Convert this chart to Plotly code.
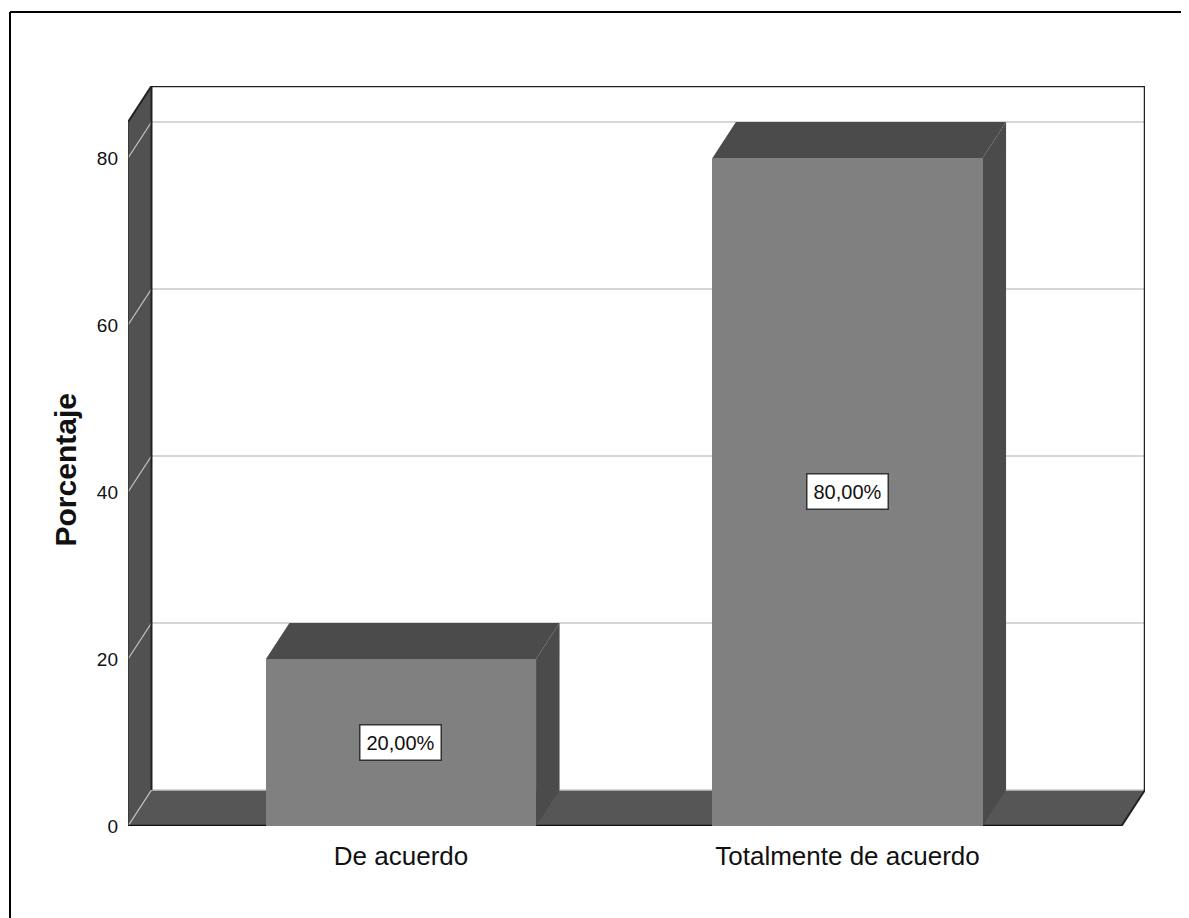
import plotly.graph_objects as go

# ---- data ----
categories = ["De acuerdo", "Totalmente de acuerdo"]
percentages = [20.0, 80.0]
bar_labels = ["20,00%", "80,00%"]
y_tick_values = [0, 20, 40, 60, 80]
y_tick_labels = ["0", "20", "40", "60", "80"]
y_title = "Porcentaje"

# ---- style / layout constants ----
W, H = 1189, 918
OFF = 8  # page body margin in the browser
X_RANGE = [-0.6114, 1.6663]
Y_RANGE = [0, 88.62]
DEPTH_X = 0.0526      # 3D depth offset (x units)
DEPTH_Y = 4.31        # 3D depth offset (y units)
BAR_WIDTH = 0.605
FRONT = "#808080"
DARK = "#4b4b4b"
FLOOR = "#565656"
WALL = "#515151"
GRID = "#c8c8c8"

# screen-space plot box: left 128, right 1145, top 86, bottom 826
ML = 128 - OFF
MT = 86 - OFF
MR = W - (1145 - OFF)
MB = H - (826 - OFF)
PW, PH = W - ML - MR, H - MT - MB

x0, x1 = X_RANGE[0], X_RANGE[1] - DEPTH_X
ytop = Y_RANGE[1]


def poly(pts, fill, line_color=None, line_width=0):
    p = "M " + " L ".join(f"{a},{b}" for a, b in pts) + " Z"
    return dict(type="path", path=p, xref="x", yref="y", fillcolor=fill,
                line=dict(color=line_color or fill, width=line_width), layer="below")


def seg(xa, ya, xb, yb, color, width):
    return dict(type="line", x0=xa, y0=ya, x1=xb, y1=yb, xref="x", yref="y",
                line=dict(color=color, width=width), layer="below")


def px_to_paper_x(sx):
    return (sx - OFF - ML) / PW


def px_to_paper_y(sy):
    return ((H - MB) - (sy - OFF)) / PH


shapes = []
# left wall
shapes.append(poly([(x0, 0), (x0 + DEPTH_X, DEPTH_Y), (x0 + DEPTH_X, ytop),
                    (x0, ytop - DEPTH_Y)], WALL))
# floor
shapes.append(poly([(x0, 0), (x1, 0), (x1 + DEPTH_X, DEPTH_Y), (x0 + DEPTH_X, DEPTH_Y)], FLOOR))
# gridlines on back wall and left wall
for v in y_tick_values:
    shapes.append(seg(x0 + DEPTH_X, v + DEPTH_Y, x1 + DEPTH_X, v + DEPTH_Y, GRID, 1.5))
    shapes.append(seg(x0, v, x0 + DEPTH_X, v + DEPTH_Y, GRID, 1.2))
# outlines
shapes.append(seg(x0 + DEPTH_X, ytop, x1 + DEPTH_X, ytop, "#222222", 2.5))
shapes.append(seg(x1 + DEPTH_X, ytop, x1 + DEPTH_X, DEPTH_Y, "#222222", 2.5))
shapes.append(seg(x0 + DEPTH_X, ytop, x0 + DEPTH_X, DEPTH_Y, "#222222", 2))
shapes.append(seg(x0, ytop - DEPTH_Y, x0 + DEPTH_X, ytop, "#222222", 2))
shapes.append(seg(x0, ytop - DEPTH_Y, x0, 0, "#333333", 1.5))
shapes.append(seg(x0, 0, x1, 0, "#111111", 2.5))
shapes.append(seg(x1, 0, x1 + DEPTH_X, DEPTH_Y, "#222222", 2))

# 3D bar top and side faces
for i, v in enumerate(percentages):
    l, r = i - BAR_WIDTH / 2, i + BAR_WIDTH / 2
    shapes.append(poly([(l, v), (l + DEPTH_X, v + DEPTH_Y), (r + DEPTH_X, v + DEPTH_Y), (r, v)], DARK))
    shapes.append(poly([(r, 0), (r + DEPTH_X, DEPTH_Y), (r + DEPTH_X, v + DEPTH_Y), (r, v)], DARK))

fig = go.Figure()
fig.add_trace(go.Bar(x=list(range(len(categories))), y=percentages, width=BAR_WIDTH,
                     marker=dict(color=FRONT, line=dict(width=0)), hoverinfo="skip",
                     showlegend=False))

annotations = []
for i, (v, lab) in enumerate(zip(percentages, bar_labels)):
    annotations.append(dict(x=i, y=v / 2, xref="x", yref="y", text=lab, showarrow=False,
                            font=dict(family="Liberation Sans, Arial", size=20, color="#111111"),
                            bgcolor="white", bordercolor="#333333", borderwidth=1.5, borderpad=6))
annotations.append(dict(x=px_to_paper_x(64.5), y=px_to_paper_y(470),
                        xref="paper", yref="paper", text=f"<b>{y_title}</b>", textangle=-90,
                        showarrow=False, xanchor="center", yanchor="middle",
                        font=dict(family="Liberation Sans, Arial", size=30, color="#111111")))

# outer frame (left and top edges)
shapes.append(dict(type="line", xref="paper", yref="paper",
                   x0=px_to_paper_x(10), y0=px_to_paper_y(12),
                   x1=px_to_paper_x(10), y1=px_to_paper_y(940),
                   line=dict(color="black", width=2)))
shapes.append(dict(type="line", xref="paper", yref="paper",
                   x0=px_to_paper_x(10), y0=px_to_paper_y(12),
                   x1=px_to_paper_x(1210), y1=px_to_paper_y(12),
                   line=dict(color="black", width=2)))

fig.update_layout(
    width=W, height=H,
    margin=dict(l=ML, r=MR, t=MT, b=MB),
    paper_bgcolor="white", plot_bgcolor="white",
    shapes=shapes, annotations=annotations,
    xaxis=dict(range=X_RANGE, tickvals=list(range(len(categories))), ticktext=categories,
               showgrid=False, zeroline=False, showline=False, ticks="",
               ticklabelstandoff=12,
               tickfont=dict(family="Liberation Sans, Arial", size=26, color="#111111")),
    yaxis=dict(range=Y_RANGE, tickvals=y_tick_values, ticktext=y_tick_labels,
               showgrid=False, zeroline=False, showline=False, ticks="",
               ticklabelstandoff=9,
               tickfont=dict(family="Liberation Sans, Arial", size=19, color="#111111")),
    bargap=0,
)

fig.write_html("out.html")
